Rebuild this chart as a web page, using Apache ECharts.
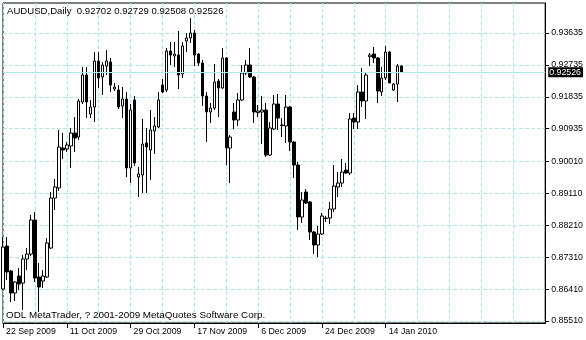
<!DOCTYPE html>
<html><head><meta charset="utf-8">
<script src="https://cdn.jsdelivr.net/npm/echarts@6/dist/echarts.min.js"></script>
<style>html,body{margin:0;padding:0;background:#fff}#c{width:586px;height:340px}</style>
</head><body><div id="c"></div>
<script>
const symbol = 'AUDUSD', period = 'Daily';
const copyright = 'ODL MetaTrader, ? 2001-2009 MetaQuotes Software Corp.';
const dates = [
'22 Sep 2009','23 Sep 2009','24 Sep 2009','25 Sep 2009','27 Sep 2009','28 Sep 2009','29 Sep 2009','30 Sep 2009',
'1 Oct 2009','2 Oct 2009','4 Oct 2009','5 Oct 2009','6 Oct 2009','7 Oct 2009','8 Oct 2009','9 Oct 2009','11 Oct 2009',
'12 Oct 2009','13 Oct 2009','14 Oct 2009','15 Oct 2009','16 Oct 2009','18 Oct 2009','19 Oct 2009','20 Oct 2009',
'21 Oct 2009','22 Oct 2009','23 Oct 2009','25 Oct 2009','26 Oct 2009','27 Oct 2009','28 Oct 2009','29 Oct 2009','30 Oct 2009',
'1 Nov 2009','2 Nov 2009','3 Nov 2009','4 Nov 2009','5 Nov 2009','6 Nov 2009','8 Nov 2009','9 Nov 2009','10 Nov 2009',
'11 Nov 2009','12 Nov 2009','13 Nov 2009','15 Nov 2009','16 Nov 2009','17 Nov 2009','18 Nov 2009','19 Nov 2009','20 Nov 2009',
'22 Nov 2009','23 Nov 2009','24 Nov 2009','25 Nov 2009','26 Nov 2009','27 Nov 2009','29 Nov 2009','30 Nov 2009',
'1 Dec 2009','2 Dec 2009','3 Dec 2009','4 Dec 2009','6 Dec 2009','7 Dec 2009','8 Dec 2009','9 Dec 2009','10 Dec 2009',
'11 Dec 2009','13 Dec 2009','14 Dec 2009','15 Dec 2009','16 Dec 2009','17 Dec 2009','18 Dec 2009','20 Dec 2009',
'21 Dec 2009','22 Dec 2009','23 Dec 2009','24 Dec 2009','27 Dec 2009','28 Dec 2009','29 Dec 2009','30 Dec 2009','31 Dec 2009',
'3 Jan 2010','4 Jan 2010','5 Jan 2010','6 Jan 2010','7 Jan 2010','8 Jan 2010','10 Jan 2010','11 Jan 2010','12 Jan 2010',
'13 Jan 2010','14 Jan 2010','15 Jan 2010','17 Jan 2010','18 Jan 2010','19 Jan 2010'];
const opens = [
0.86412,0.87625,0.86920,0.86300,0.86779,0.86582,0.87259,0.87400,0.88359,0.86751,
0.86638,0.86751,0.87569,0.88979,0.89262,0.90390,0.90362,0.90446,0.90813,0.90700,
0.91688,0.92449,0.91349,0.91546,0.92844,0.92393,0.92703,0.92816,0.92054,0.92026,
0.91575,0.91772,0.89826,0.91744,0.89572,0.89628,0.90531,0.90334,0.90870,0.90982,
0.92167,0.92026,0.93126,0.92985,0.93013,0.92478,0.93408,0.93493,0.93634,0.93042,
0.92788,0.91857,0.91406,0.91518,0.92280,0.92083,0.92929,0.90390,0.91406,0.91180,
0.91744,0.92506,0.92731,0.92393,0.91391,0.91406,0.91462,0.90192,0.90926,0.91631,
0.91025,0.91011,0.91546,0.90559,0.89910,0.88443,0.89149,0.88867,0.88020,0.87654,
0.87964,0.88401,0.88415,0.88669,0.89290,0.89403,0.89769,0.89685,0.91236,0.91123,
0.91970,0.91716,0.92966,0.93042,0.92929,0.91970,0.92365,0.93098,0.92026,0.92195,
0.92702];
const highs = [
0.87879,0.87879,0.86948,0.86638,0.87005,0.87371,0.87569,0.88500,0.88585,0.87146,
0.86948,0.87851,0.89149,0.89515,0.90898,0.90813,0.90559,0.90954,0.91264,0.91772,
0.92675,0.92675,0.91744,0.93098,0.93098,0.92816,0.93154,0.92929,0.92224,0.92167,
0.92111,0.91970,0.91631,0.91857,0.89854,0.91208,0.90954,0.91462,0.91264,0.91970,
0.92336,0.93211,0.93380,0.93380,0.93690,0.93380,0.93634,0.94057,0.93719,0.93070,
0.92872,0.91970,0.91659,0.92760,0.92336,0.93211,0.92957,0.90757,0.91659,0.91941,
0.92731,0.92872,0.93211,0.92421,0.91603,0.91857,0.91659,0.91123,0.91885,0.91913,
0.91236,0.91885,0.91575,0.90587,0.89995,0.89149,0.89233,0.88895,0.88049,0.88190,
0.88556,0.88472,0.88867,0.89910,0.89713,0.90080,0.89967,0.91377,0.91377,0.92167,
0.92647,0.92534,0.93070,0.93239,0.92957,0.92675,0.93267,0.93126,0.92224,0.92760,
0.92729];
const lows = [
0.86384,0.86666,0.86046,0.86074,0.86384,0.85820,0.86948,0.87343,0.86610,0.85764,
0.86441,0.86723,0.87541,0.88641,0.89177,0.90080,0.90277,0.89826,0.90277,0.90616,
0.91631,0.91236,0.91236,0.91123,0.92083,0.91885,0.92449,0.91970,0.91998,0.91490,
0.91236,0.89572,0.89403,0.89882,0.89008,0.89120,0.89120,0.89487,0.90221,0.90954,
0.91941,0.91970,0.92731,0.92675,0.92054,0.92365,0.93098,0.93352,0.92703,0.92703,
0.91575,0.90559,0.91095,0.91462,0.91264,0.92054,0.89910,0.89403,0.90926,0.91011,
0.91716,0.92449,0.92365,0.91095,0.91264,0.90503,0.90136,0.90164,0.90898,0.90898,
0.90700,0.90531,0.90305,0.89544,0.88077,0.88274,0.88810,0.87795,0.87400,0.87315,
0.87936,0.88302,0.88246,0.88585,0.89008,0.89290,0.89657,0.89628,0.90926,0.90926,
0.91546,0.91208,0.92703,0.92788,0.91659,0.91857,0.92308,0.92224,0.91998,0.91688,
0.92508];
const closes = [
0.87597,0.86892,0.86300,0.86610,0.86553,0.87259,0.87400,0.88359,0.86723,0.86469,
0.86779,0.87710,0.88979,0.89290,0.90418,0.90334,0.90475,0.90813,0.90672,0.91716,
0.92449,0.91688,0.91546,0.92844,0.92365,0.92731,0.92844,0.92167,0.92111,0.91546,
0.91772,0.89826,0.91462,0.89967,0.89657,0.90503,0.90418,0.90898,0.91011,0.91744,
0.91970,0.93126,0.93013,0.93042,0.92449,0.93267,0.93493,0.93634,0.93013,0.92788,
0.91857,0.91406,0.91518,0.92252,0.92083,0.92929,0.90390,0.90700,0.91180,0.91744,
0.92506,0.92731,0.92393,0.91406,0.91434,0.91462,0.90192,0.90954,0.91631,0.91236,
0.91039,0.91546,0.90559,0.89910,0.88443,0.88923,0.88838,0.88020,0.87654,0.87964,
0.88472,0.88415,0.88669,0.89318,0.89403,0.89713,0.89685,0.91208,0.91123,0.91970,
0.91716,0.92449,0.93013,0.92929,0.91998,0.92365,0.93098,0.92224,0.92195,0.92703,
0.92526];
const tickLabels = ['0.85510','0.86410','0.87310','0.88210','0.89110','0.90010','0.90935','0.91835','0.92735','0.93635'];

const tickVals = tickLabels.map(Number);
const n = dates.length;
const last = n - 1;
const candles = dates.map((d, i) => [opens[i], closes[i], lows[i], highs[i]]);
const fmt = v => v.toFixed(5);
const headerText = symbol + ',' + period + '  ' + fmt(opens[last]) + ' ' + fmt(highs[last]) + ' ' + fmt(lows[last]) + ' ' + fmt(closes[last]);

const gridColor = '#b4e4e4';
const uiFont = '"Liberation Sans", Arial, sans-serif';
const axisFont = '"Liberation Sans", Arial, sans-serif';

const chart = echarts.init(document.getElementById('c'), null, {renderer: 'canvas'});
chart.setOption({
  animation: false,
  backgroundColor: '#ffffff',
  title: [
    {text: headerText, left: 7, top: 6, padding: 0,
     textStyle: {fontFamily: uiFont, fontSize: 9.6, fontWeight: 'normal', color: '#000'}},
    {text: copyright, left: 6, top: 310, padding: 0,
     textStyle: {fontFamily: uiFont, fontSize: 9.9, fontWeight: 'normal', color: '#000'}}
  ],
  grid: {left: 3, top: 3, width: 544, height: 320, show: true, borderColor: '#000', borderWidth: 1, backgroundColor: 'transparent'},
  xAxis: {
    type: 'category', data: dates, boundaryGap: false, max: 136,
    axisLine: {show: true, lineStyle: {color: '#000', width: 1}},
    axisTick: {show: true, length: 5, interval: (i) => i % 16 === 0 && i < n, lineStyle: {color: '#000'}},
    axisLabel: {show: true, interval: (i) => i % 16 === 0 && i < n, align: 'left', margin: 4, padding: [0, 0, 0, 3],
      color: '#000', fontFamily: axisFont, fontSize: 8.8},
    splitLine: {show: true, interval: (i) => i % 8 === 0, lineStyle: {color: gridColor, type: [4, 2], width: 1}}
  },
  yAxis: {
    type: 'value', position: 'right', min: 0.854536, max: 0.944808, scale: true,
    axisLine: {show: true, lineStyle: {color: '#000', width: 1}},
    axisTick: {show: true, length: 4, customValues: tickVals, lineStyle: {color: '#000'}},
    axisLabel: {show: true, customValues: tickVals, formatter: (v) => fmt(v), margin: 6,
      color: '#000', fontFamily: axisFont, fontSize: 8.8},
    splitLine: {show: true, lineStyle: {color: gridColor, type: [4, 2], width: 1}}
  },
  series: [{
    type: 'candlestick', data: candles, barWidth: 3,
    itemStyle: {color: '#ffffff', color0: '#000000', borderColor: '#000000', borderColor0: '#000000', borderWidth: 1},
    markLine: {
      silent: true, symbol: ['none', 'none'], animation: false, precision: 5,
      lineStyle: {color: '#a6ecec', type: 'solid', width: 1},
      label: {show: true, position: 'end', distance: 3, formatter: () => fmt(closes[last]),
        backgroundColor: '#000', color: '#fff', padding: [1, 2, 0, 1], fontFamily: axisFont, fontSize: 8.8},
      data: [{yAxis: closes[last]}]
    }
  }]
});
</script></body></html>
